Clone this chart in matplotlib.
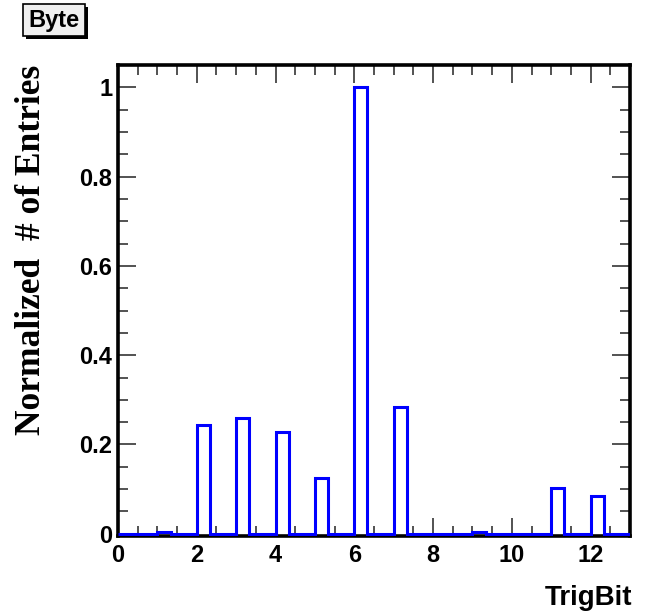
import numpy as np
import matplotlib
matplotlib.use("Agg")
import matplotlib.pyplot as plt
from matplotlib.ticker import MultipleLocator
from matplotlib.patches import Rectangle

# --- data: 39 bins of width 1/3 between 0 and 13 ---
x_min, x_max, n_bins = 0, 13, 39
norm_entries = [
    0, 0, 0, 0.004, 0, 0, 0.243, 0, 0, 0.260, 0, 0, 0.228,
    0, 0, 0.125, 0, 0, 1.0, 0, 0, 0.283, 0, 0, 0, 0,
    0, 0.003, 0, 0, 0, 0, 0, 0.102, 0, 0, 0.085, 0, 0,
]
x_ticks = [0, 2, 4, 6, 8, 10, 12]
y_ticks = [0, 0.2, 0.4, 0.6, 0.8, 1]
y_tick_labels = ["0", "0.2", "0.4", "0.6", "0.8", "1"]

edges = np.linspace(x_min, x_max, n_bins + 1)

sans = ["Liberation Sans Narrow", "Liberation Sans", "DejaVu Sans"]

fig = plt.figure(figsize=(6.46, 6.12), dpi=100)
ax = fig.add_axes([118 / 646, 1 - 536 / 612, 512 / 646, 471 / 612])

ax.stairs(norm_entries, edges, baseline=0, fill=False,
          color="#0000ff", linewidth=2.2, zorder=3)

ax.set_xlim(x_min, x_max)
ax.set_ylim(-0.005, 1.05)

# ROOT style ticks (inside, on all four sides)
ax.xaxis.set_major_locator(MultipleLocator(2))
ax.xaxis.set_minor_locator(MultipleLocator(0.5))
ax.yaxis.set_major_locator(MultipleLocator(0.2))
ax.yaxis.set_minor_locator(MultipleLocator(0.05))
ax.set_xticks(x_ticks)
ax.set_yticks(y_ticks, y_tick_labels)
ax.tick_params(which="both", direction="in", top=True, right=True,
               color="#444444")
ax.tick_params(which="major", length=13, width=1.3)
ax.tick_params(which="minor", length=7, width=1.3)
ax.tick_params(axis="x", which="major", pad=6)
ax.tick_params(axis="y", which="major", pad=4)
for lab in ax.get_xticklabels() + ax.get_yticklabels():
    lab.set_family(sans)
    lab.set_fontweight("bold")
    lab.set_fontsize(17)

for sp in ax.spines.values():
    sp.set_linewidth(2.6)
    sp.set_color("black")

ax.set_xlabel("TrigBit", family=sans, fontweight="bold", fontsize=20)
ax.xaxis.set_label_coords(1.005, -0.105)
ax.xaxis.label.set_horizontalalignment("right")

fig.text(32 / 646, 1 - 250 / 612, "Normalized  # of Entries",
         family=["Liberation Serif", "DejaVu Serif"], fontweight="bold",
         fontsize=25.5, rotation=90, ha="center", va="center")

# title box with shadow
bx, by, bw, bh = 23 / 646, 1 - 36 / 612, 62 / 646, 32 / 612
fig.patches.append(Rectangle((bx + 3 / 646, by - 3 / 612), bw, bh,
                             transform=fig.transFigure, facecolor="black",
                             edgecolor="black", linewidth=0))
fig.patches.append(Rectangle((bx, by), bw, bh, transform=fig.transFigure,
                             facecolor="#f0f0f0", edgecolor="black",
                             linewidth=1.2))
fig.text(bx + bw / 2, by + bh / 2, "Byte", family=sans, fontweight="bold",
         fontsize=17, ha="center", va="center")

fig.savefig("out.png", dpi=100)
